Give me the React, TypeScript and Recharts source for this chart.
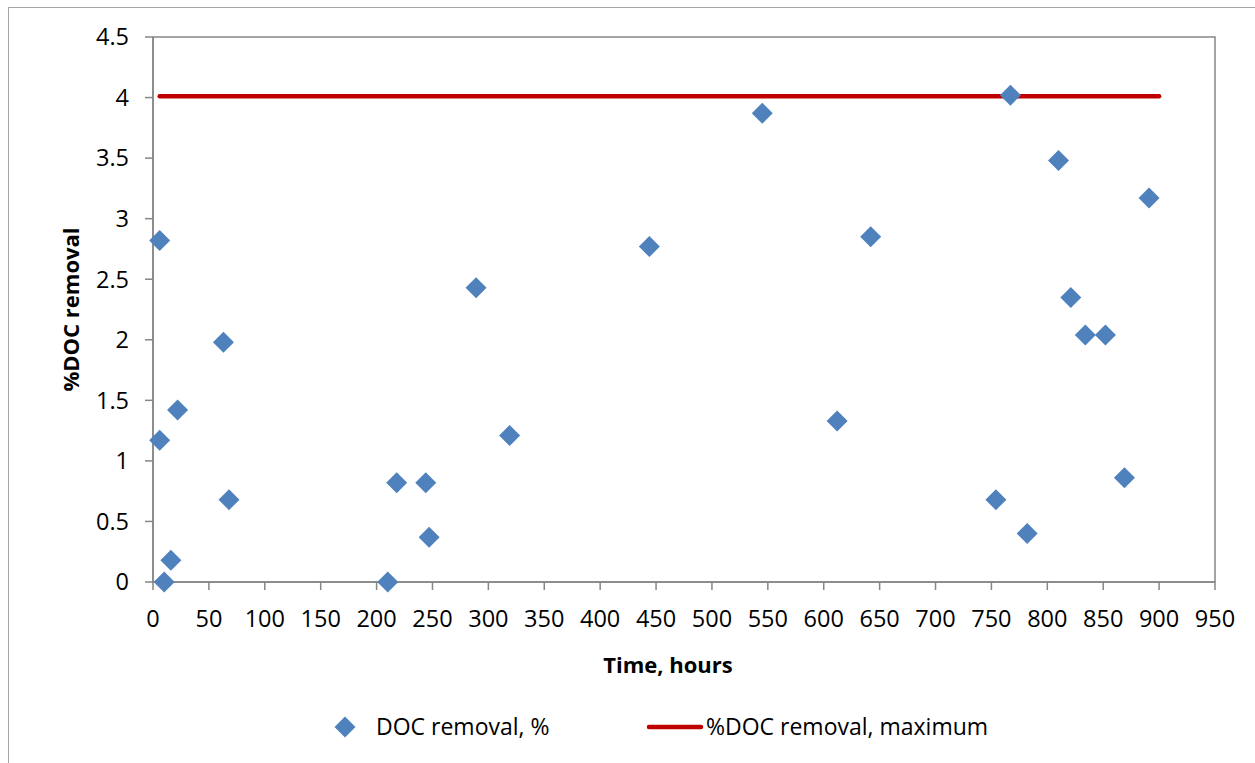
import { ComposedChart, Scatter, Line, XAxis, YAxis, Legend, ReferenceArea } from 'recharts';

// DOC removal measurements (hours, %)
const hours = [6, 6, 10, 16, 22, 63, 68, 210, 218, 244, 247, 289, 319, 444, 545, 612, 642, 754, 767, 782, 810, 821, 834, 852, 869, 891];
const removal = [2.82, 1.17, 0, 0.18, 1.42, 1.98, 0.68, 0, 0.82, 0.82, 0.37, 2.43, 1.21, 2.77, 3.87, 1.33, 2.85, 0.68, 4.02, 0.4, 3.48, 2.35, 2.04, 2.04, 0.86, 3.17];

// maximum line
const maxHours = [6, 900];
const maxRemoval = [4.01, 4.01];

const xTicks = [0, 50, 100, 150, 200, 250, 300, 350, 400, 450, 500, 550, 600, 650, 700, 750, 800, 850, 900, 950];
const yTicks = [0, 0.5, 1, 1.5, 2, 2.5, 3, 3.5, 4, 4.5];

const docData = hours.map((x, i) => ({ x, y: removal[i] }));
const maxData = maxHours.map((x, i) => ({ x, y: maxRemoval[i] }));

const BLUE = '#4F81BD';
const RED = '#C00000';
const AXIS = '#868686';
const FONT = '"Open Sans", sans-serif';

const Diamond = (props: any) => {
  const { cx, cy } = props;
  const r = 10.5;
  return <path d={`M${cx},${cy - r}L${cx + r},${cy}L${cx},${cy + r}L${cx - r},${cy}Z`} fill={BLUE} />;
};

const LegendContent = () => (
  <div style={{ position: 'relative', height: 60, fontFamily: FONT, fontSize: 23, color: '#000' }}>
    <svg style={{ position: 'absolute', left: 334, top: 23 }} width={22} height={22}>
      <path d="M11,0.5L21.5,11L11,21.5L0.5,11Z" fill={BLUE} />
    </svg>
    <span style={{ position: 'absolute', left: 376, top: 17, lineHeight: '32px' }}>DOC removal, %</span>
    <svg style={{ position: 'absolute', left: 646, top: 31 }} width={58} height={6}>
      <line x1={3} y1={3} x2={55} y2={3} stroke={RED} strokeWidth={4.5} strokeLinecap="round" />
    </svg>
    <span style={{ position: 'absolute', left: 706, top: 17, lineHeight: '32px' }}>%DOC removal, maximum</span>
  </div>
);

export default function App() {
  return (
    <div style={{ position: 'absolute', left: 0, top: 0, width: 1255, height: 763, overflow: 'hidden', background: '#fff' }}>
      <div style={{ position: 'absolute', left: 8, top: 7, width: 1300, height: 800, borderLeft: '1px solid #a6a6a6', borderTop: '1px solid #a6a6a6' }} />
      <div style={{ position: 'absolute', left: 0, top: 0 }}>
        <ComposedChart width={1255} height={763} margin={{ top: 37, right: 40, left: 0, bottom: 10 }}>
          <XAxis
            dataKey="x"
            type="number"
            domain={[0, 950]}
            ticks={xTicks}
            interval={0}
            height={111}
            stroke={AXIS}
            strokeWidth={1.5}
            tickSize={8}
            tickMargin={20}
            tick={{ fill: '#000', fontSize: 23.5, fontFamily: FONT }}
            label={{ value: 'Time, hours', position: 'insideBottom', offset: 20, dx: -16, style: { fill: '#000', fontSize: 22, fontWeight: 700, fontFamily: FONT } }}
          />
          <YAxis
            type="number"
            dataKey="y"
            domain={[0, 4.5]}
            ticks={yTicks}
            interval={0}
            width={153}
            stroke={AXIS}
            strokeWidth={1.5}
            tickSize={8}
            tickMargin={16}
            tick={{ fill: '#000', fontSize: 23.5, fontFamily: FONT }}
            label={{ value: '%DOC removal', angle: -90, position: 'insideLeft', offset: 71, style: { textAnchor: 'middle', fill: '#000', fontSize: 22, fontWeight: 700, fontFamily: FONT } }}
          />
          <ReferenceArea x1={0} x2={950} y1={0} y2={4.5} fill="none" stroke={AXIS} strokeWidth={1.5} />
          <Legend verticalAlign="bottom" height={60} content={<LegendContent />} />
          <Line
            data={maxData}
            dataKey="y"
            name="%DOC removal, maximum"
            stroke={RED}
            strokeWidth={4.5}
            strokeLinecap="round"
            dot={false}
            activeDot={false}
            isAnimationActive={false}
          />
          <Scatter data={docData} dataKey="y" name="DOC removal, %" shape={<Diamond />} isAnimationActive={false} />
        </ComposedChart>
      </div>
    </div>
  );
}
